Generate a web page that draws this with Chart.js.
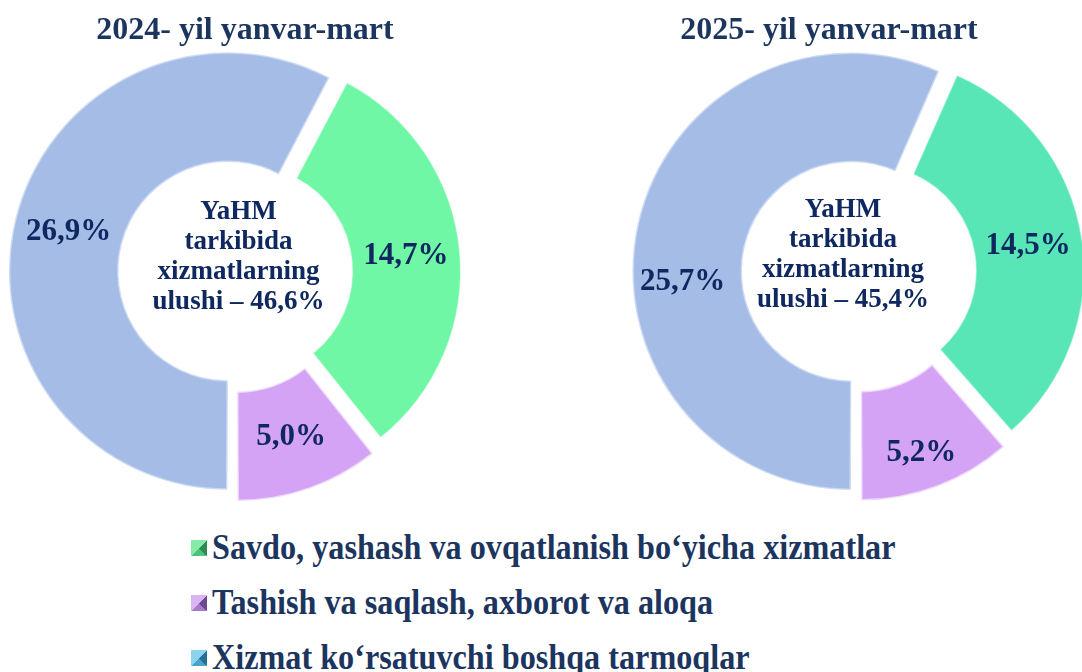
<!DOCTYPE html>
<html>
<head>
<meta charset="utf-8">
<script src="https://cdn.jsdelivr.net/npm/chart.js@4.4.1/dist/chart.umd.min.js"></script>
<style>
  html, body { margin: 0; padding: 0; background: #fff; width: 1082px; height: 672px; overflow: hidden; }
  canvas { position: absolute; top: 0; }
  #chart2024 { left: 0; }
  #chart2025 { left: 576px; }
  #legend {
    position: absolute; left: 191px; top: 520px;
    font-family: "Liberation Serif", "Times New Roman", serif; font-weight: bold; color: #1c355f;
  }
  .row { height: 55px; display: flex; align-items: center; white-space: nowrap; }
  .box { width: 16px; height: 16px; margin-right: 5px; flex: none; }
  .txt { font-size: 35px; display: inline-block; transform: scaleX(0.92); transform-origin: left center; }
</style>
</head>
<body>
<canvas id="chart2024" width="491" height="520"></canvas>
<canvas id="chart2025" width="506" height="520"></canvas>
<div id="legend"></div>

<script>
// --- dados ---
const categorias = [
  "Savdo, yashash va ovqatlanish bo‘yicha xizmatlar",
  "Tashish va saqlash, axborot va aloqa",
  "Xizmat ko‘rsatuvchi boshqa tarmoqlar",
];
const valores2024 = [14.7, 5.0, 26.9];
const valores2025 = [14.5, 5.2, 25.7];
const titulos = ["2024- yil yanvar-mart", "2025- yil yanvar-mart"];
const textoCentro = ["YaHM", "tarkibida", "xizmatlarning", "ulushi – "];

const corTitulo = "#1c355f";
const corRotulo = "#0f2860";
const coresLegenda = [
  ["#86eaa9", "#2e8a52", "#4cc27c"],
  ["#d9b6f3", "#6b4a90", "#a77bc9"],
  ["#8cd3f0", "#276f95", "#4aa3cc"],
];

function fmt(v) {
  return v.toFixed(1).replace(".", ",");
}

const rotuloPlugin = {
  id: "rotulos",
  afterDatasetsDraw(chart, args, opts) {
    const { ctx } = chart;
    const meta = chart.getDatasetMeta(0);
    const vals = chart.data.datasets[0].data;
    ctx.save();
    ctx.textAlign = "center";
    ctx.textBaseline = "middle";

    // titulo (desenhado aqui para poder ficar fora do centro do grafico)
    ctx.fillStyle = corTitulo;
    ctx.font = 'bold 32px "Liberation Serif", serif';
    ctx.fillText(opts.titulo, opts.tituloX, 31);

    ctx.fillStyle = corRotulo;
    ctx.font = 'bold 31px "Liberation Serif", serif';
    meta.data.forEach((arc, i) => {
      // mesmo deslocamento que o Chart.js aplica ao desenhar o arco
      const o = (arc.options.offset || 0) / 4;
      const circ = arc.endAngle - arc.startAngle;
      const fix = 1 - Math.sin(Math.min(Math.PI, circ));
      const meio = (arc.startAngle + arc.endAngle) / 2;
      const r = (arc.innerRadius + arc.outerRadius) / 2 + o * fix + o;
      const n = opts.nudge[i] || [0, 0];
      ctx.fillText(fmt(vals[i]) + "%", arc.x + Math.cos(meio) * r + n[0], arc.y + Math.sin(meio) * r + n[1]);
    });

    // texto do meio
    const total = vals.reduce((a, b) => a + b, 0);
    const linhas = textoCentro.slice(0, 3).concat([textoCentro[3] + fmt(total) + "%"]);
    const cx = meta.data[0].x + opts.centro[0];
    const cy = meta.data[0].y + opts.centro[1];
    ctx.font = 'bold 27px "Liberation Serif", serif';
    linhas.forEach((l, i) => {
      ctx.fillText(l, cx, cy + (i - 1.5) * 30);
    });
    ctx.restore();
  },
};

function rotacao(vals) {
  const soma = vals.reduce((a, b) => a + b, 0);
  return 180 - (360 * (vals[0] + vals[1])) / soma;
}

function criarGrafico(id, vals, titulo, tituloX, verde, padEsq, padDir, centro, nudge) {
  const ctx = document.getElementById(id).getContext("2d");
  return new Chart(ctx, {
    type: "doughnut",
    data: {
      labels: categorias,
      datasets: [
        {
          data: vals,
          backgroundColor: [verde, "#d5a3f5", "#a4bce6"],
          borderColor: ["rgba(255,255,255,0.45)", "rgba(240,220,252,0.9)", "rgba(205,218,243,0.9)"],
          borderWidth: 1.5,
          offset: [56, 48, 24],
          clip: false,
        },
      ],
    },
    options: {
      responsive: false,
      animation: false,
      rotation: rotacao(vals),
      radius: 212,
      cutout: "49%",
      layout: { padding: { left: padEsq, right: padDir, top: 60, bottom: 35 } },
      plugins: {
        legend: { display: false },
        tooltip: { enabled: false },
        title: { display: false },
        rotulos: { titulo: titulo, tituloX: tituloX, centro: centro, nudge: nudge },
      },
    },
    plugins: [rotuloPlugin],
  });
}

criarGrafico("chart2024", valores2024, titulos[0], 245, "#6ff7a5", 0, 24, [5, -15], []);
criarGrafico("chart2025", valores2025, titulos[1], 253, "#58e6b6", 56, 0, [-14, -17], [[0, 0], [3, 18], [-8, 45]]);

// legenda
const legenda = document.getElementById("legend");
categorias.forEach((cat, i) => {
  const [claro, escuro, meio] = coresLegenda[i];
  const row = document.createElement("div");
  row.className = "row";
  const box = document.createElement("span");
  box.className = "box";
  box.style.background = `conic-gradient(from -45deg, ${claro} 0 25%, ${escuro} 25% 50%, ${meio} 50% 75%, ${claro} 75% 100%)`;
  const txt = document.createElement("span");
  txt.className = "txt";
  txt.textContent = cat;
  row.appendChild(box);
  row.appendChild(txt);
  legenda.appendChild(row);
});
</script>
</body>
</html>
